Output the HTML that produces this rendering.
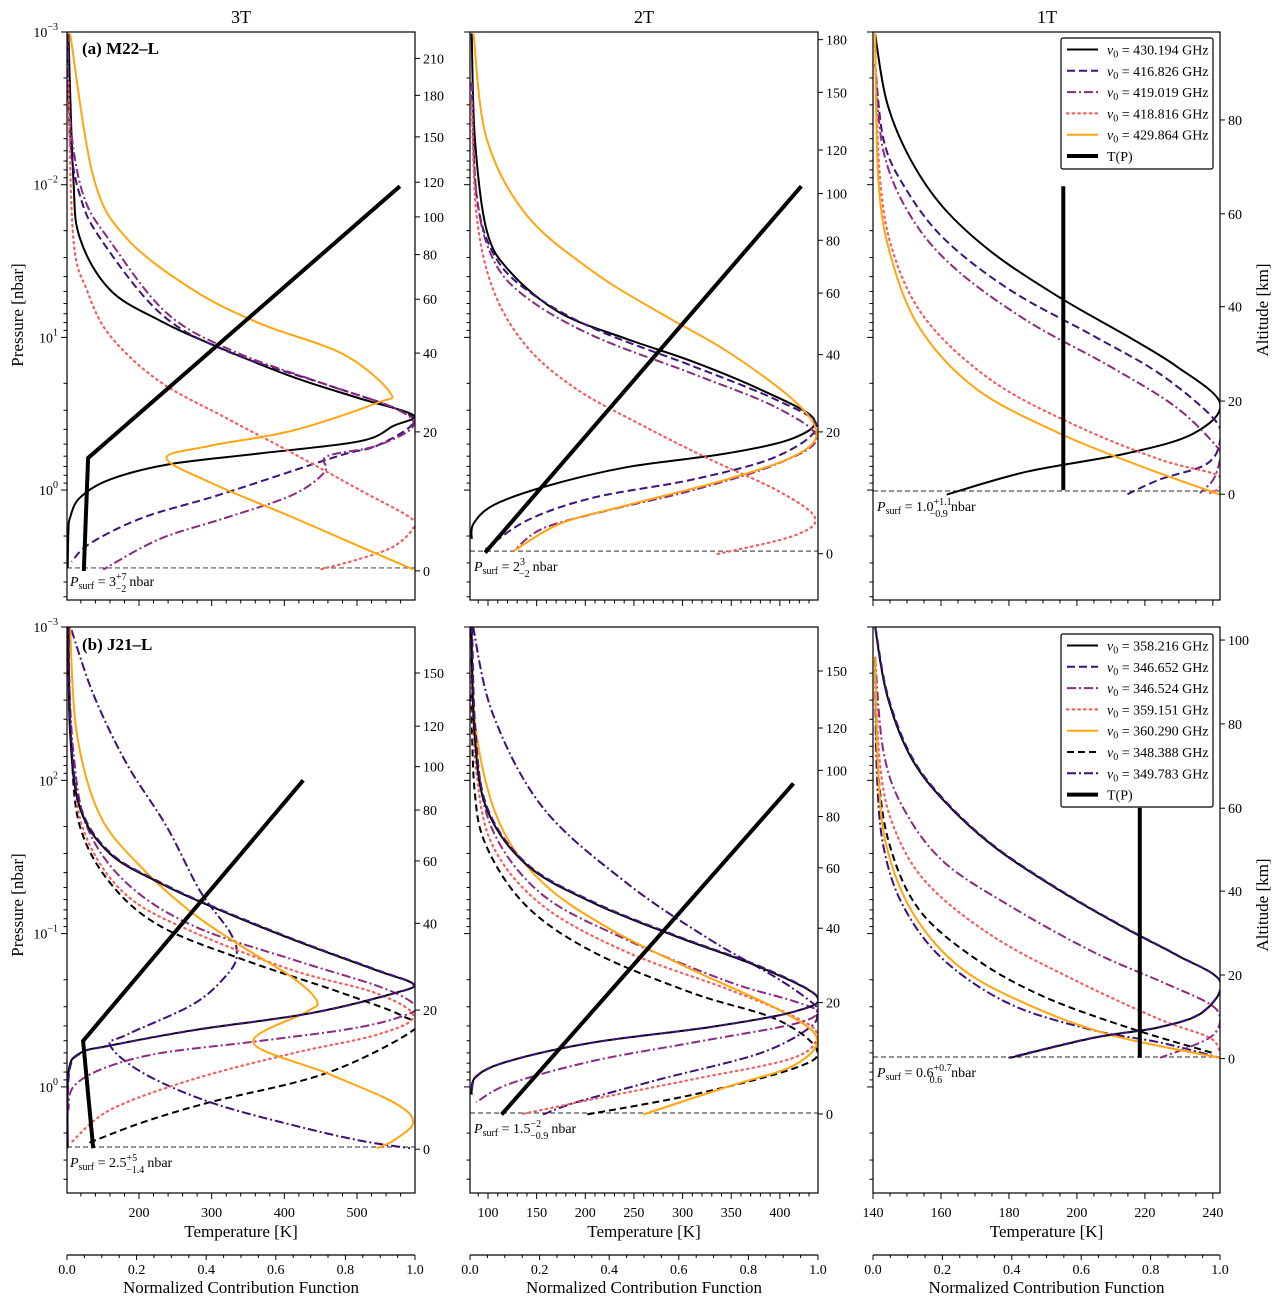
<!DOCTYPE html>
<html><head><meta charset="utf-8"><style>
body{margin:0;background:#fff}
svg{display:block;font-family:"Liberation Serif",serif}
</style></head><body>
<svg id="fig" width="1280" height="1307" viewBox="0 0 1280 1307" xmlns="http://www.w3.org/2000/svg"></svg>
<script>
// ---------- data: contribution (0..1) vs log10 pressure [nbar] ----------
const A_k_c=[.004,.018,.037,.124,.267,.42,.65,.842,.995,.938,.842,.555,.296,.124,.037,.009,.004,.002];
const A_k_p=[-2.99,-2.05,-1.65,-1.31,-1.11,-0.95,-0.74,-0.60,-0.49,-0.42,-0.32,-0.24,-0.17,-0.07,0.05,0.18,0.27,0.51];
const A_pd_c=[.002,.009,.037,.095,.267,.459,.746,.938,.995,.89,.775,.44,.219,.066,.013];
const A_pd_p=[-2.99,-2.30,-1.93,-1.65,-1.16,-0.91,-0.69,-0.54,-0.44,-0.29,-0.22,0.03,0.18,0.35,0.47];
const A_dd_c=[.002,.009,.047,.124,.286,.478,.746,.938,.995,.89,.746,.741,.65,.459,.267,.104];
const A_dd_p=[-2.99,-2.42,-1.93,-1.63,-1.16,-0.91,-0.69,-0.54,-0.42,-0.29,-0.22,-0.12,0.03,0.18,0.32,0.52];
const A_dt_c=[.004,.018,.057,.124,.267,.459,.65,.842,.986,.995,.938,.842,.727];
const A_dt_p=[-2.67,-1.65,-1.31,-1.01,-0.71,-0.47,-0.24,0.00,0.18,0.25,0.37,0.45,0.52];
const A_or_c=[.009,.076,.171,.363,.555,.794,.928,.89,.65,.411,.286,.411,.65,.842,.995];
const A_or_p=[-2.99,-2.05,-1.65,-1.31,-1.09,-0.89,-0.64,-0.57,-0.39,-0.29,-0.21,-0.05,0.18,0.37,0.52];
const A_T=[124,130,559], A_Tp=[0.53,-0.21,-1.99];

const B_k_c=[.005,.014,.048,.115,.259,.45,.642,.833,.987,.929,.738,.45,.211,.067,.01,.005];
const B_k_p=[-2.99,-2.30,-1.70,-1.43,-1.16,-0.99,-0.84,-0.66,-0.47,-0.34,-0.24,-0.15,-0.02,0.10,0.22,0.32];
const B_pd_c=[.005,.019,.067,.163,.354,.642,.881,.996,.881,.642,.354,.163,.038];
const B_pd_p=[-2.67,-1.93,-1.55,-1.31,-1.06,-0.81,-0.59,-0.42,-0.22,-0.07,0.05,0.20,0.40];
const B_dd_c=[.005,.019,.067,.163,.354,.642,.881,.996,.881,.642,.402,.211,.125];
const B_dd_p=[-2.67,-1.93,-1.51,-1.26,-1.01,-0.76,-0.54,-0.34,-0.17,0.00,0.13,0.25,0.40];
const B_dt_c=[.005,.019,.067,.163,.307,.498,.69,.881,.991,.929,.709];
const B_dt_p=[-2.54,-1.80,-1.31,-0.94,-0.66,-0.42,-0.20,0.00,0.18,0.30,0.42];
const B_or_c=[.01,.048,.163,.354,.546,.738,.929,.996,.929,.738,.45,.259,.125];
const B_or_p=[-2.99,-2.30,-1.80,-1.43,-1.16,-0.91,-0.59,-0.37,-0.22,-0.07,0.10,0.22,0.40];
const B_T=[97,422], B_Tp=[0.41,-1.99];

const C_k_c=[.006,.04,.107,.203,.347,.539,.731,.875,1.0,.923,.731,.443,.212];
const C_k_p=[-2.99,-2.54,-2.17,-1.85,-1.55,-1.26,-1.01,-0.81,-0.57,-0.37,-0.24,-0.12,0.03];
const C_pd_c=[.006,.03,.087,.203,.395,.635,.827,.981,1.0,.961,.827,.731];
const C_pd_p=[-2.79,-2.30,-2.00,-1.65,-1.31,-1.01,-0.76,-0.47,-0.32,-0.17,-0.07,0.03];
const C_dd_c=[.006,.03,.107,.232,.443,.683,.875,.996,1.0,.981,.942];
const C_dd_p=[-2.79,-2.22,-1.80,-1.46,-1.11,-0.81,-0.54,-0.27,-0.20,-0.07,0.02];
const C_dt_c=[.006,.02,.059,.155,.347,.587,.827,.99,1.0,.971];
const C_dt_p=[-2.91,-2.05,-1.55,-1.11,-0.71,-0.42,-0.20,-0.10,-0.02,0.02];
const C_or_c=[.006,.015,.049,.135,.299,.539,.779,1.0];
const C_or_p=[-2.99,-2.05,-1.55,-1.06,-0.66,-0.37,-0.15,0.03];
const C_T=[196,196], C_Tp=[0.0,-1.99];

const D_k_c=[.004,.009,.037,.124,.267,.411,.65,.89,.995,.938,.698,.363,.124,.037,.004,.002];
const D_k_p=[-3.00,-2.31,-1.82,-1.52,-1.33,-1.18,-0.96,-0.76,-0.67,-0.61,-0.48,-0.37,-0.27,-0.22,-0.09,0.40];
const D_pd_c=[.005,.011,.04,.128,.272,.416,.655,.894,.996,.94,.70,.366,.126,.04,.006,.002];
const D_pd_p=[-3.00,-2.31,-1.82,-1.52,-1.33,-1.18,-0.96,-0.76,-0.67,-0.61,-0.48,-0.37,-0.27,-0.22,-0.09,0.40];
const D_dd_c=[.004,.018,.057,.171,.363,.65,.89,.986,.995,.842,.555,.267,.104,.018,.004];
const D_dd_p=[-2.80,-2.19,-1.70,-1.33,-1.05,-0.83,-0.66,-0.56,-0.49,-0.39,-0.30,-0.22,-0.12,0.00,0.15];
const D_dt_c=[.004,.018,.057,.171,.363,.65,.89,.995,.89,.65,.363,.124,.009];
const D_dt_p=[-2.80,-2.06,-1.62,-1.25,-1.01,-0.76,-0.61,-0.46,-0.34,-0.22,-0.05,0.15,0.37];
const D_or_c=[.009,.028,.095,.219,.363,.507,.65,.718,.689,.535,.746,.938,.995,.938,.89];
const D_or_p=[-3.00,-2.31,-1.77,-1.42,-1.13,-0.91,-0.71,-0.56,-0.49,-0.29,-0.09,0.10,0.23,0.35,0.40];
const D_kd_c=[.004,.013,.037,.124,.267,.507,.794,.967,.995,.746,.411,.219,.057];
const D_kd_p=[-2.80,-2.19,-1.70,-1.33,-1.05,-0.83,-0.61,-0.46,-0.37,-0.09,0.10,0.23,0.37];
const D_id_c=[.013,.076,.171,.286,.382,.468,.488,.459,.363,.171,.124,.219,.411,.65,.842,.986];
const D_id_p=[-2.98,-2.56,-2.11,-1.70,-1.28,-1.01,-0.86,-0.73,-0.54,-0.34,-0.27,-0.09,0.10,0.25,0.35,0.40];
const D_T=[137,123,426], D_Tp=[0.40,-0.30,-2.00];

const E_k_c=[.004,.013,.047,.162,.354,.594,.834,.997,.93,.69,.354,.114,.018,.004];
const E_k_p=[-3.00,-2.31,-1.82,-1.45,-1.20,-0.98,-0.78,-0.59,-0.49,-0.39,-0.29,-0.17,-0.07,0.05];
const E_pd_c=[.006,.016,.05,.166,.36,.6,.84,.998,.93,.69,.354,.114,.02,.005];
const E_pd_p=[-3.00,-2.31,-1.82,-1.45,-1.20,-0.98,-0.78,-0.59,-0.49,-0.39,-0.29,-0.17,-0.07,0.05];
const E_dd_c=[.004,.018,.066,.21,.45,.738,.93,.997,.93,.642,.354,.114,.018];
const E_dd_p=[-2.80,-2.19,-1.67,-1.25,-0.96,-0.69,-0.56,-0.49,-0.41,-0.29,-0.17,-0.02,0.10];
const E_dt_c=[.004,.018,.066,.21,.45,.738,.93,.997,.93,.642,.354,.143];
const E_dt_p=[-2.68,-2.06,-1.57,-1.18,-0.88,-0.64,-0.46,-0.34,-0.19,-0.05,0.08,0.18];
const E_or_c=[.004,.018,.085,.21,.402,.642,.882,.997,.93,.738,.498];
const E_or_p=[-3.00,-2.31,-1.72,-1.33,-1.03,-0.76,-0.51,-0.32,-0.14,0.00,0.18];
const E_kd_c=[.004,.013,.047,.162,.354,.642,.882,.997,.93,.642,.335];
const E_kd_p=[-2.56,-1.94,-1.57,-1.18,-0.88,-0.61,-0.44,-0.24,-0.12,0.05,0.18];
const E_id_c=[.009,.066,.21,.45,.69,.882,.988,.997,.978,.834,.546,.306,.21];
const E_id_p=[-3.00,-2.43,-1.82,-1.33,-0.96,-0.71,-0.54,-0.49,-0.39,-0.22,-0.05,0.10,0.18];
const E_T=[114,414], E_Tp=[0.18,-1.98];

const F_k_c=[.006,.04,.107,.203,.347,.539,.731,.875,1.0,.952,.827,.635,.395];
const F_k_p=[-3.00,-2.56,-2.16,-1.87,-1.57,-1.28,-1.03,-0.86,-0.69,-0.49,-0.39,-0.32,-0.19];
const F_pd_c=[.007,.042,.11,.206,.35,.542,.734,.877,1.0,.95,.825,.632,.39];
const F_pd_p=[-3.00,-2.56,-2.16,-1.87,-1.57,-1.28,-1.03,-0.86,-0.69,-0.49,-0.39,-0.32,-0.19];
const F_dd_c=[.006,.03,.087,.203,.395,.635,.827,.971,1.0,.981,.923,.827];
const F_dd_p=[-2.80,-2.19,-1.82,-1.47,-1.18,-0.88,-0.69,-0.54,-0.44,-0.34,-0.27,-0.19];
const F_dt_c=[.006,.02,.059,.155,.347,.587,.827,.971,1.0];
const F_dt_p=[-2.80,-2.11,-1.70,-1.33,-0.98,-0.69,-0.44,-0.32,-0.22];
const F_or_c=[.006,.015,.039,.116,.251,.443,.683,1.0];
const F_or_p=[-2.80,-2.06,-1.57,-1.13,-0.78,-0.54,-0.34,-0.19];
const F_kd_c=[.006,.015,.049,.135,.299,.491,.731,.981];
const F_kd_p=[-2.80,-2.06,-1.57,-1.15,-0.83,-0.59,-0.39,-0.22];
const F_id_c=[.006,.011,.03,.087,.203,.395,.635,.827,1.0];
const F_id_p=[-2.80,-2.06,-1.57,-1.18,-0.83,-0.54,-0.37,-0.29,-0.19];
const F_T=[218.5,218.5], F_Tp=[-0.19,-1.82];

// surface pressures (log10 nbar)
const surfTop=[0.51,0.40,0.006];
const surfBot=[0.392,0.17,-0.195];
// altitude ticks (km) and their log10 pressure
const altA=[210,180,150,120,100,80,60,40,20,0], altAp=[-2.827,-2.585,-2.313,-2.016,-1.789,-1.542,-1.25,-0.897,-0.381,0.529];
const altB=[180,150,120,100,80,60,40,20,0], altBp=[-2.95,-2.605,-2.227,-1.942,-1.636,-1.29,-0.887,-0.381,0.417];
const altC=[80,60,40,20,0], altCp=[-2.424,-1.809,-1.201,-0.583,0.027];
const altD=[150,120,100,80,60,40,20,0], altDp=[-2.70,-2.353,-2.089,-1.806,-1.474,-1.067,-0.501,0.406];
const altE=[150,120,100,80,60,40,20,0], altEp=[-2.713,-2.341,-2.065,-1.764,-1.429,-1.035,-0.55,0.177];
const altF=[100,80,60,40,20,0], altFp=[-2.915,-2.368,-1.818,-1.277,-0.73,-0.185];
// tick labels
const contribTicks=[0,0.2,0.4,0.6,0.8,1.0];
const tempTicks1=[200,300,400,500], tempTicks2=[100,150,200,250,300,350,400], tempTicks3=[140,160,180,200,220,240];
const presLabTop=["−3","−2","1","0"], presLabBot=["−3","2","−1","0"];
const legTop=["430.194","416.826","419.019","418.816","429.864"];
const legBot=["358.216","346.652","346.524","359.151","360.290","348.388","349.783"];

// ---------- drawing ----------
const NS="http://www.w3.org/2000/svg";
const svg=document.getElementById('fig');
function mk(tag,attrs,parent){const e=document.createElementNS(NS,tag);for(const k in attrs)e.setAttribute(k,attrs[k]);(parent||svg).appendChild(e);return e;}
const STY={
 k:{stroke:"#000",w:2,dash:""},
 pd:{stroke:"#3d1479",w:2,dash:"8,4"},
 dd:{stroke:"#8c2981",w:2,dash:"9,3,2,3"},
 dt:{stroke:"#f1605d",w:2.2,dash:"1.5,4.2",cap:"round"},
 or:{stroke:"#ffa510",w:2,dash:""},
 kd:{stroke:"#000",w:2,dash:"7,4"},
 id:{stroke:"#40107a",w:2,dash:"9,3,2,3"}
};
const cols=[[67,415],[470,818],[873,1220]];
const rows=[{y0:32,y1:600,p1:0.72},{y0:627,y1:1193,p1:0.692}];
const tdom=[[100.9,579.8],[81.5,439.2],[140,242.1]];
const panels=[
 {r:0,c:0,id:"A",ser:[["k",A_k_c,A_k_p],["pd",A_pd_c,A_pd_p],["dd",A_dd_c,A_dd_p],["dt",A_dt_c,A_dt_p],["or",A_or_c,A_or_p]],T:[A_T,A_Tp],alt:[altA,altAp],surf:surfTop[0]},
 {r:0,c:1,id:"B",ser:[["k",B_k_c,B_k_p],["pd",B_pd_c,B_pd_p],["dd",B_dd_c,B_dd_p],["dt",B_dt_c,B_dt_p],["or",B_or_c,B_or_p]],T:[B_T,B_Tp],alt:[altB,altBp],surf:surfTop[1]},
 {r:0,c:2,id:"C",ser:[["k",C_k_c,C_k_p],["pd",C_pd_c,C_pd_p],["dd",C_dd_c,C_dd_p],["dt",C_dt_c,C_dt_p],["or",C_or_c,C_or_p]],T:[C_T,C_Tp],alt:[altC,altCp],surf:surfTop[2]},
 {r:1,c:0,id:"D",ser:[["kd",D_kd_c,D_kd_p],["id",D_id_c,D_id_p],["dt",D_dt_c,D_dt_p],["dd",D_dd_c,D_dd_p],["or",D_or_c,D_or_p],["k",D_k_c,D_k_p],["pd",D_pd_c,D_pd_p]],T:[D_T,D_Tp],alt:[altD,altDp],surf:surfBot[0]},
 {r:1,c:1,id:"E",ser:[["kd",E_kd_c,E_kd_p],["id",E_id_c,E_id_p],["dt",E_dt_c,E_dt_p],["dd",E_dd_c,E_dd_p],["or",E_or_c,E_or_p],["k",E_k_c,E_k_p],["pd",E_pd_c,E_pd_p]],T:[E_T,E_Tp],alt:[altE,altEp],surf:surfBot[1]},
 {r:1,c:2,id:"F",ser:[["kd",F_kd_c,F_kd_p],["id",F_id_c,F_id_p],["dt",F_dt_c,F_dt_p],["dd",F_dd_c,F_dd_p],["or",F_or_c,F_or_p],["k",F_k_c,F_k_p],["pd",F_pd_c,F_pd_p]],T:[F_T,F_Tp],alt:[altF,altFp],surf:surfBot[2]}
];
function smooth(pts){
 if(pts.length<3)return "M"+pts.map(p=>p[0].toFixed(1)+","+p[1].toFixed(1)).join("L");
 let d="M"+pts[0][0].toFixed(1)+","+pts[0][1].toFixed(1);
 for(let i=0;i<pts.length-1;i++){
  const p0=pts[Math.max(0,i-1)],p1=pts[i],p2=pts[i+1],p3=pts[Math.min(pts.length-1,i+2)];
  const c1=[p1[0]+(p2[0]-p0[0])/6,p1[1]+(p2[1]-p0[1])/6],c2=[p2[0]-(p3[0]-p1[0])/6,p2[1]-(p3[1]-p1[1])/6];
  d+="C"+c1.map(v=>v.toFixed(1)).join(",")+" "+c2.map(v=>v.toFixed(1)).join(",")+" "+p2[0].toFixed(1)+","+p2[1].toFixed(1);
 }
 return d;
}
const defs=mk('defs',{});
panels.forEach(P=>{
 const [x0,x1]=cols[P.c],R=rows[P.r];
 const xC=v=>x0+v*(x1-x0);
 const yP=lp=>R.y0+(lp+3)/(R.p1+3)*(R.y1-R.y0);
 const xT=t=>x0+(t-tdom[P.c][0])/(tdom[P.c][1]-tdom[P.c][0])*(x1-x0);
 const g=mk('g',{});
 
 
 const cp=mk('clipPath',{id:'clip'+P.id},defs);
 mk('rect',{x:x0,y:R.y0,width:x1-x0,height:R.y1-R.y0},cp);
 const sl=mk('line',{x1:x0,x2:x1,y1:yP(P.surf),y2:yP(P.surf),stroke:"#555","stroke-width":1.2,"stroke-dasharray":"5,3"},g);
 
 
 const cg=mk('g',{'clip-path':'url(#clip'+P.id+')'},g);
 P.ser.forEach(s=>{
  const st=STY[s[0]];
  const pts=s[1].map((v,i)=>[xC(v),yP(s[2][i])]);
  const pa=mk('path',{d:smooth(pts),fill:"none",stroke:st.stroke,"stroke-width":st.w,"stroke-dasharray":st.dash,"stroke-linecap":st.cap||"butt"},cg);
  
  
 });
 const tp=P.T[0].map((t,i)=>xT(t).toFixed(1)+","+yP(P.T[1][i]).toFixed(1)).join(" ");
 const tl=mk('polyline',{points:tp,fill:"none",stroke:"#000","stroke-width":4},cg);
 
 
 const fr=mk('rect',{x:x0,y:R.y0,width:x1-x0,height:R.y1-R.y0,fill:"none",stroke:"#000","stroke-width":1.2},g);
 
 
 for(let dec=-3;dec<=0;dec++){
  for(let m=1;m<10;m++){
   const lp=dec+Math.log10(m);
   if(lp>(R.p1))break;
   const y=yP(lp);
   mk('line',{x1:x0-(m==1?6:3.5),x2:x0,y1:y,y2:y,stroke:"#000","stroke-width":1},g);
  }
 }
 if(P.c===0){
  const labs=P.r===0?presLabTop:presLabBot;
  labs.forEach((l,i)=>{
   const t=mk('text',{x:x0-9,y:yP(-3+i)+5,"font-size":14,"text-anchor":"end"},g);
   
   
   t.innerHTML='10<tspan dy="-7" font-size="10">'+l+'</tspan>';
  });
 }
 P.alt[0].forEach((a,i)=>{
  const y=yP(P.alt[1][i]);
  mk('line',{x1:x1,x2:x1+5,y1:y,y2:y,stroke:"#000","stroke-width":1},g);
  const t=mk('text',{x:x1+8,y:y+5,"font-size":14},g);
  
  
  t.textContent=a;
 });
 const [ta,tb]=tdom[P.c];
 const minorStep=[20,10,5][P.c], majorStep=[100,50,20][P.c];
 for(let t=Math.ceil(ta/minorStep)*minorStep;t<=tb;t+=minorStep){
  const maj=(t%majorStep===0);
  mk('line',{x1:xT(t),x2:xT(t),y1:R.y1,y2:R.y1+(maj?6:3.5),stroke:"#000","stroke-width":1},g);
 }
 if(P.r===1){
  const tt=[tempTicks1,tempTicks2,tempTicks3][P.c];
  tt.forEach(t=>{
   const tx=mk('text',{x:xT(t),y:R.y1+24,"font-size":14,"text-anchor":"middle"},g);
   
   
   tx.textContent=t;
  });
  const tl2=mk('text',{x:(x0+x1)/2,y:1237,"font-size":17,"text-anchor":"middle"},g);
  
  
  tl2.textContent="Temperature [K]";
  const ax=mk('line',{x1:x0,x2:x1,y1:1255,y2:1255,stroke:"#000","stroke-width":1.2},g);
  
  
  for(let i=0;i<=20;i++){
   const v=i/20,maj=(i%4===0);
   mk('line',{x1:xC(v),x2:xC(v),y1:1255,y2:1255+(maj?5:3),stroke:"#000","stroke-width":1},g);
  }
  contribTicks.forEach(v=>{
   const tx=mk('text',{x:xC(v),y:1274,"font-size":14,"text-anchor":"middle"},g);
   
   
   tx.textContent=v.toFixed(1);
  });
  const ct=mk('text',{x:(x0+x1)/2,y:1293,"font-size":17,"text-anchor":"middle"},g);
  
  
  ct.textContent="Normalized Contribution Function";
 }
});

function txt(name,x,y,size,content,extra){
 const t=mk('text',Object.assign({x:x,y:y,"font-size":size},extra||{}));
 
 
 t.innerHTML=content;
 return t;
}
txt('column-title-3t',241,23,18,'3T',{"text-anchor":"middle"});
txt('column-title-2t',644,23,18,'2T',{"text-anchor":"middle"});
txt('column-title-1t',1047,23,18,'1T',{"text-anchor":"middle"});
txt('panel-label-a',82,54,17,'(a) M22–L',{"font-weight":"bold"});
txt('panel-label-b',82,650,17,'(b) J21–L',{"font-weight":"bold"});
txt('pressure-axis-title-top',0,0,17,'Pressure [nbar]',{"text-anchor":"middle",transform:"translate(23,315) rotate(-90)"});
txt('pressure-axis-title-bottom',0,0,17,'Pressure [nbar]',{"text-anchor":"middle",transform:"translate(23,905) rotate(-90)"});
txt('altitude-axis-title-top',0,0,17,'Altitude [km]',{"text-anchor":"middle",transform:"translate(1268,310) rotate(-90)"});
txt('altitude-axis-title-bottom',0,0,17,'Altitude [km]',{"text-anchor":"middle",transform:"translate(1268,905) rotate(-90)"});
function psurf(name,x,y,val,up,dn){
 const wu=up.length*5.5, wd=dn.length*5.5;
 const back=wu, after=Math.max(0,wu-wd)+3;
 txt(name,x,y,14,'<tspan font-style="italic">P</tspan><tspan font-size="10" dy="3">surf</tspan><tspan dy="-3"> = '+val+'</tspan><tspan font-size="10" dy="-6">'+up+'</tspan><tspan font-size="10" dx="-'+back.toFixed(0)+'" dy="12">'+dn+'</tspan><tspan dx="'+after.toFixed(0)+'" dy="-6">nbar</tspan>');
}
psurf('psurf-label-a-3t',70,586,'3','+7','−2');
psurf('psurf-label-a-2t',474,571,'2','3','−2');
psurf('psurf-label-a-1t',877,511,'1.0','+1.1','−0.9');
psurf('psurf-label-b-3t',70,1167,'2.5','+5','−1.4');
psurf('psurf-label-b-2t',474,1133,'1.5','−2','−0.9');
psurf('psurf-label-b-1t',877,1077,'0.6','+0.7','0.6');

function legend(name,x,y,h,vals,keys){
 const g=mk('g',{});
 
 
 mk('rect',{x:x,y:y,width:152,height:h,fill:"#fff",stroke:"#000","stroke-width":1.2,rx:2},g);
 const step=21.3;
 vals.forEach((v,i)=>{
  const st=STY[keys[i]],yy=y+11.5+i*step;
  mk('line',{x1:x+6,x2:x+37,y1:yy,y2:yy,stroke:st.stroke,"stroke-width":st.w,"stroke-dasharray":st.dash,"stroke-linecap":st.cap||"butt"},g);
  const t=mk('text',{x:x+46,y:yy+5,"font-size":14},g);
  
  
  t.innerHTML='<tspan font-style="italic">ν</tspan><tspan font-size="10" dy="3">0</tspan><tspan dy="-3"> = '+v+' GHz</tspan>';
 });
 const yy=y+11.5+vals.length*step;
 mk('line',{x1:x+6,x2:x+37,y1:yy,y2:yy,stroke:"#000","stroke-width":4},g);
 const t=mk('text',{x:x+46,y:yy+5,"font-size":14},g);
 
 
 t.textContent="T(P)";
}
legend('legend-top',1061,38,131,legTop,["k","pd","dd","dt","or"]);
legend('legend-bottom',1061,634,173,legBot,["k","pd","dd","dt","or","kd","id"]);
</script>
</body></html>
